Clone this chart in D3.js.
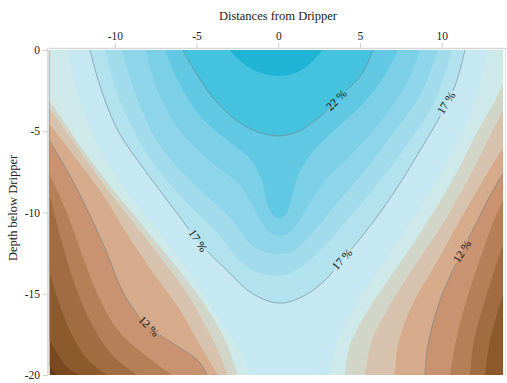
<!DOCTYPE html>
<html><head><meta charset="utf-8">
<script src="https://cdn.jsdelivr.net/npm/d3@7"></script>
<style>
html,body{margin:0;padding:0;background:#fff;}
svg{display:block;font-family:"Liberation Serif","Times New Roman",serif;}
.axis text{font-family:"Liberation Serif","Times New Roman",serif;}
</style></head><body>
<svg id="chart" width="507" height="383"></svg>
<script>
// Axis ticks
const xTicks = [-10, -5, 0, 5, 10];
const yTicks = [0, -5, -10, -15, -20];
// Measured field extent: distance from dripper, depth below dripper
const xExtent = [-14, 13.75];
const depthExtent = [-20, 0];

// Soil-moisture isolines (%), points are [distance, depth]; one or two branches per level
const iso7  = [[[-14,-19.45],[-13.79,-19.75],[-13.54,-20]]];
const iso8  = [[[-14,-17.85],[-13.48,-18.77],[-12.87,-19.57],[-12.13,-20]]];
const iso9  = [[[-14,-13.56],[-13.48,-15.4],[-12.62,-17.55],[-11.64,-19.08],[-10.48,-20]],
               [[12.65,-20],[12.96,-17.85],[13.45,-16.01],[13.75,-15.09]]];
const iso10 = [[[-14,-8.83],[-13.36,-11.41],[-12.44,-14.48],[-11.4,-16.93],[-10.17,-18.77],[-8.64,-20]],
               [[11.74,-20],[11.98,-17.85],[12.65,-15.4],[13.39,-13.07],[13.75,-12.02]]];
const iso11 = [[[-14,-7.61],[-12.99,-9.88],[-11.99,-12.64],[-11.03,-15.09],[-9.81,-17.24],[-8.15,-18.77],[-6.5,-20]],
               [[10.51,-20],[10.82,-18.16],[11.43,-15.71],[12.22,-13.25],[13.08,-10.8],[13.75,-9.26]]];
const iso12 = [[[-14,-5.58],[-12.75,-7.73],[-11.52,-10.18],[-10.42,-12.64],[-9.56,-14.79],[-8.58,-16.32],[-7.91,-16.99],[-7.06,-17.67],[-5.59,-18.59],[-4.79,-19.26],[-4.36,-20]],
               [[8.98,-20],[9.16,-18.16],[9.9,-15.4],[10.82,-13.25],[11.24,-12.33],[12.04,-10.8],[12.96,-8.96],[13.75,-7.61]]];
const iso13 = [[[-14,-4.54],[-12.75,-6.2],[-10.91,-8.65],[-9.2,-11.41],[-7.54,-13.87],[-6.01,-16.01],[-4.79,-18.16],[-3.69,-20]],
               [[7.14,-20],[7.33,-18.16],[8.19,-15.71],[9.59,-13.25],[11.12,-10.49],[12.53,-8.04],[13.75,-6.01]]];
const iso14 = [[[-14,-3.62],[-12.99,-4.97],[-11.52,-7.12],[-9.69,-9.57],[-7.54,-12.33],[-5.71,-14.79],[-4.48,-16.93],[-3.56,-18.77],[-3.08,-20]],
               [[5.31,-20],[5.74,-17.85],[6.84,-15.71],[8.37,-13.25],[10.2,-10.49],[11.74,-7.73],[12.96,-5.28],[13.75,-3.74]]];
const iso15 = [[[-14,-3.13],[-13.36,-4.05],[-12.13,-5.89],[-10.3,-8.34],[-8.15,-10.98],[-6.32,-13.25],[-4.48,-15.71],[-3.26,-17.85],[-2.46,-20]],
               [[4.09,-20],[4.39,-18.16],[5.49,-16.01],[7.14,-13.56],[8.98,-10.8],[10.82,-7.73],[12.22,-4.97],[13.26,-3.13],[13.75,-2.09]]];
const iso16 = [[[-12.93,0],[-12.13,-3.13],[-10.91,-6.2],[-9.07,-8.96],[-6.93,-11.72],[-5.09,-14.17],[-3.56,-16.63],[-2.34,-18.47],[-1.73,-20]],
               [[3.17,-20],[3.53,-18.16],[4.7,-15.71],[6.53,-12.94],[8.37,-10.18],[10.2,-7.12],[11.74,-4.05],[12.47,-1.6],[12.77,0]]];
const iso17 = [[[-11.52,0],[-10.91,-2.21],[-9.81,-4.97],[-8.15,-7.42],[-6.32,-9.88],[-4.79,-11.9],[-3.26,-13.44],[-1.61,-14.97],[0.11,-15.58],[1.64,-15.09],[2.86,-14.17],[3.9,-12.94],[5.31,-11.23],[6.96,-8.96],[8.67,-6.2],[10.02,-3.87],[10.82,-2.21],[11.43,0]]];
const iso18 = [[[-10.6,0],[-9.69,-3.13],[-8.15,-6.2],[-6.01,-8.96],[-3.87,-11.1],[-2.03,-13.25],[-0.5,-13.87],[0.84,-13.68],[2.25,-12.64],[4.09,-10.61],[6.23,-8.04],[8.06,-5.58],[9.59,-3.13],[10.63,0]]];
const iso19 = [[[-9.56,0],[-8.58,-3.13],[-7.24,-5.89],[-5.09,-8.34],[-3.08,-10.18],[-1.61,-12.02],[-0.5,-12.52],[0.72,-12.45],[1.94,-11.41],[3.47,-9.57],[5.31,-7.42],[7.14,-4.97],[8.67,-2.82],[9.78,0]]];
const iso20 = [[[-8.15,0],[-7.36,-2.52],[-6.01,-4.97],[-4.18,-6.81],[-2.34,-8.34],[-1.24,-10.18],[-0.5,-11.23],[0.11,-11.41],[0.84,-11.1],[1.64,-9.88],[2.86,-8.04],[4.7,-6.2],[6.53,-4.05],[7.94,-1.9],[8.67,0]]];
const iso21 = [[[-6.93,0],[-6.13,-1.9],[-4.79,-4.05],[-3.08,-5.58],[-1.73,-6.69],[-0.99,-8.04],[-0.63,-9.57],[-0.14,-10.31],[0.47,-10.12],[0.84,-8.96],[1.33,-7.42],[2.43,-5.89],[4.09,-4.36],[5.61,-2.82],[6.84,-0.98],[7.33,0]]];
const iso22 = [[[-5.83,0],[-5.22,-1.1],[-3.99,-2.94],[-2.52,-4.36],[-1.12,-5.09],[0.11,-5.28],[1.33,-4.97],[2.74,-3.93],[3.96,-2.7],[5.12,-1.47],[5.8,0]]];
const iso23 = [[[-2.95,0],[-2.34,-0.67],[-1.36,-1.29],[-0.08,-1.6],[1.21,-1.35],[2.13,-0.67],[2.68,0]]];

const levels = [7, 8, 9, 10, 11, 12, 13, 14, 15, 16, 17, 18, 19, 20, 21, 22, 23];
const isolines = [iso7, iso8, iso9, iso10, iso11, iso12, iso13, iso14, iso15, iso16, iso17, iso18, iso19, iso20, iso21, iso22, iso23];
const labelledLevels = [12, 17, 22];

// Inline contour labels: position [distance, depth] and angle
const labelText = ["22 %", "17 %", "17 %", "17 %", "12 %", "12 %"];
const labelX = [3.55, 10.27, -4.91, 3.9, 11.24, -7.91];
const labelD = [-3.07, -3.25, -11.72, -12.88, -12.39, -16.99];
const labelAngle = [-45, -57, 57, -47, -57, 45];

// Band fills, driest (brown) to wettest (cyan)
const bandColors = ['#6b3a17','#7b4920','#8c5a2d','#a16c42','#b57f58','#c99371','#d5ab8c','#d7c3ad',
  '#d1d6c9','#cee9e9','#c5e8f2','#b3e2ef','#a1dbec','#8ed5e9','#7bcfe6','#60c8e2','#44c2de','#1fb4d6'];

const svg = d3.select('#chart');
const x = d3.scaleLinear().domain([-14, 14]).range([49.5, 507]);
const y = d3.scaleLinear().domain([0, -20]).range([50, 375]);

const [X0, X1] = xExtent, [D0, D1] = depthExtent;
const W = X1 - X0, H = D1 - D0, P = 2 * W + 2 * H;

// position along the field border, counter-clockwise from bottom-left
function perim([px, pd]) {
  const e = 1e-6;
  if (Math.abs(pd - D0) < e) return px - X0;
  if (Math.abs(px - X1) < e) return W + (pd - D0);
  if (Math.abs(pd - D1) < e) return W + H + (X1 - px);
  return 2 * W + H + (D1 - pd);
}
const corners = [[X1, D0, W], [X1, D1, W + H], [X0, D1, 2 * W + H], [X0, D0, P]];
function walk(a, b) {
  const pa = perim(a); let pb = perim(b);
  if (pb <= pa) pb += P;
  const out = [];
  for (const k of [0, 1]) for (const c of corners) {
    const pc = c[2] + k * P;
    if (pc > pa && pc < pb) out.push([c[0], c[1], pc]);
  }
  return out.sort((u, v) => u[2] - v[2]);
}
const curve = d3.line().x(p => x(p[0])).y(p => y(p[1])).curve(d3.curveCatmullRom.alpha(0.5));
function regionPath(branches) {
  let s = '';
  branches.forEach((br, i) => {
    const seg = curve(br);
    s += i === 0 ? seg : 'L' + seg.slice(1);
    const next = branches[(i + 1) % branches.length];
    walk(br[br.length - 1], next[0]).forEach(c => { s += `L${x(c[0])},${y(c[1])}`; });
  });
  return s + 'Z';
}

const defs = svg.append('defs');
defs.append('clipPath').attr('id', 'field').append('rect')
  .attr('x', x(X0)).attr('y', y(D1)).attr('width', x(X1) - x(X0)).attr('height', y(D0) - y(D1));

const field = svg.append('g').attr('clip-path', 'url(#field)');
field.append('rect')
  .attr('x', x(X0)).attr('y', y(D1)).attr('width', x(X1) - x(X0)).attr('height', y(D0) - y(D1))
  .attr('fill', bandColors[0]);
field.selectAll('path.band').data(isolines).join('path')
  .attr('class', 'band')
  .attr('d', d => regionPath(d))
  .attr('fill', (d, i) => bandColors[i + 1]);

// gaps in the isolines under their labels
const mask = defs.append('mask').attr('id', 'labelGaps');
mask.append('rect').attr('x', 0).attr('y', 0).attr('width', 507).attr('height', 383).attr('fill', '#fff');
labelText.forEach((t, i) => {
  mask.append('rect').attr('x', -14).attr('y', -6).attr('width', 28).attr('height', 12).attr('fill', '#000')
    .attr('transform', `translate(${x(labelX[i])},${y(labelD[i])}) rotate(${labelAngle[i]})`);
});

const lines = field.append('g').attr('mask', 'url(#labelGaps)');
levels.forEach((lv, i) => {
  if (!labelledLevels.includes(lv)) return;
  isolines[i].forEach(br => {
    lines.append('path').attr('d', curve(br)).attr('fill', 'none')
      .attr('stroke', '#6f8088').attr('stroke-width', 0.7).attr('stroke-opacity', 0.85);
  });
});

svg.append('g').selectAll('text').data(labelText).join('text')
  .attr('transform', (d, i) => `translate(${x(labelX[i])},${y(labelD[i])}) rotate(${labelAngle[i]})`)
  .attr('text-anchor', 'middle').attr('dy', '0.35em')
  .attr('font-size', 11.5).attr('fill', '#111')
  .text(d => d);

// Axes
const fmt = d => String(d);
const topAxis = svg.append('g').attr('class', 'axis').attr('transform', 'translate(0,48)')
  .call(d3.axisTop(x).tickValues(xTicks).tickFormat(fmt).tickSize(5).tickSizeOuter(0));
const leftAxis = svg.append('g').attr('class', 'axis').attr('transform', 'translate(48,0)')
  .call(d3.axisLeft(y).tickValues(yTicks).tickFormat(fmt).tickSize(5).tickSizeOuter(0));
[topAxis, leftAxis].forEach(g => {
  g.attr('font-family', '"Liberation Serif","Times New Roman",serif').attr('font-size', 11.5);
  g.select('.domain').attr('stroke', '#d6d6d6').attr('stroke-width', 1.5);
  g.selectAll('.tick line').attr('stroke', '#cfcfcf');
  g.selectAll('.tick text').attr('fill', '#222');
});
leftAxis.select('.domain').attr('d', `M0,${y(0) - 2}V${y(-20)}`);
svg.append('line').attr('x1', 505.5).attr('x2', 505.5).attr('y1', 48).attr('y2', y(-20))
  .attr('stroke', '#e2e2e2').attr('stroke-width', 1);

svg.append('text').attr('x', 278).attr('y', 20).attr('text-anchor', 'middle')
  .attr('font-size', 12.5).attr('fill', '#222').text('Distances from Dripper');
svg.append('text').attr('transform', 'translate(17,208) rotate(-90)').attr('text-anchor', 'middle')
  .attr('font-size', 12.5).attr('fill', '#222').text('Depth below Dripper');
</script>
</body></html>
